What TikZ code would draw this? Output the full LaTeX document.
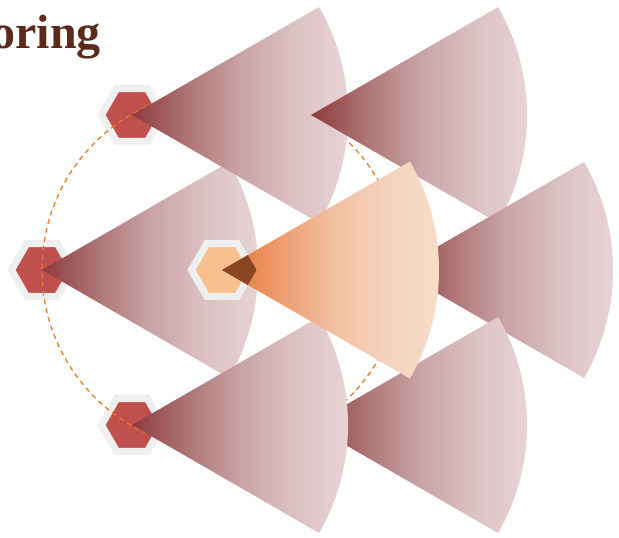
\documentclass[tikz,border=0pt]{standalone}
\usepackage{fontspec}
\setmainfont{Liberation Serif}
\usetikzlibrary{shapes.geometric}
\definecolor{hexred}{HTML}{C0504D}
\definecolor{hexborder}{HTML}{EFEFEF}
\definecolor{hexorange}{HTML}{F8C08F}
\definecolor{ringorange}{HTML}{E87A2E}
\definecolor{titlebrown}{HTML}{5A2A1C}
\definecolor{overlapbrown}{HTML}{8A4522}
\definecolor{rwa}{HTML}{8E3A3C}
\definecolor{rwb}{HTML}{AD7475}
\definecolor{rwc}{HTML}{C9A3A5}
\definecolor{rwd}{HTML}{DCC1C3}
\definecolor{rwe}{HTML}{E9D7D8}
\definecolor{owa}{HTML}{E3712E}
\definecolor{owb}{HTML}{EC9A6C}
\definecolor{owc}{HTML}{F2BE9F}
\definecolor{owd}{HTML}{F5D3BC}
\definecolor{owe}{HTML}{F7DFCA}
\pgfdeclarehorizontalshading{redwedgeshade}{100bp}{color(0bp)=(rwa); color(25bp)=(rwa); color(37bp)=(rwb); color(49bp)=(rwc); color(61bp)=(rwd); color(75bp)=(rwe); color(100bp)=(rwe)}
\pgfdeclarehorizontalshading{orgwedgeshade}{100bp}{color(0bp)=(owa); color(25bp)=(owa); color(37bp)=(owb); color(49bp)=(owc); color(61bp)=(owd); color(75bp)=(owe); color(100bp)=(owe)}
\begin{document}
\begin{tikzpicture}[x=1pt,y=-1pt,
  hexcell/.style={regular polygon, regular polygon sides=6, minimum size=61pt, inner sep=0pt, outer sep=0pt, draw=hexborder, line width=7pt},
  redhex/.style={hexcell, fill=hexred},
  orghex/.style={hexcell, fill=hexorange},
  redwedge/.style={shading=redwedgeshade},
  orgwedge/.style={shading=orgwedgeshade},
  ring/.style={draw=ringorange, line width=1.3pt, dash pattern=on 5pt off 4pt}]
\useasboundingbox (0,0) rectangle (619,538);
\fill[white] (0,0) rectangle (619,538);
\coordinate (c) at (222,270);
\coordinate (p180) at (42,270);
\coordinate (p120) at (132,115);
\coordinate (p240) at (132,425);
\coordinate (p60) at (311,115);
\coordinate (p0) at (397,270);
\coordinate (p300) at (311,425);
% outer cells
\node[redhex] (h120) at (p120) {};
\node[redhex] (h180) at (p180) {};
\node[redhex] (h240) at (p240) {};
% neighbourhood ring
\draw[ring] (c) circle[radius=180];
% sensing wedges
\path[redwedge] (p180) -- +(-30:216) arc[start angle=-30, end angle=30, radius=216] -- cycle;
\path[redwedge] (p120) -- +(-30:216) arc[start angle=-30, end angle=30, radius=216] -- cycle;
\path[redwedge] (p60) -- +(-30:216) arc[start angle=-30, end angle=30, radius=216] -- cycle;
\path[redwedge] (p0) -- +(-30:216) arc[start angle=-30, end angle=30, radius=216] -- cycle;
\path[redwedge] (p300) -- +(-30:216) arc[start angle=-30, end angle=30, radius=216] -- cycle;
\path[redwedge] (p240) -- +(-30:216) arc[start angle=-30, end angle=30, radius=216] -- cycle;
% centre cell
\node[orghex] (hc) at (c) {};
\path[orgwedge] (c) -- +(-30:217) arc[start angle=-30, end angle=30, radius=217] -- cycle;
\begin{scope}
  \clip (c) ++(0:34.5) -- ++(120:34.5) -- ++(180:34.5) -- ++(240:34.5) -- ++(300:34.5) -- ++(0:34.5) -- cycle;
  \fill[overlapbrown] (c) -- +(-30:217) arc[start angle=-30, end angle=30, radius=217] -- cycle;
\end{scope}
% title
\node[anchor=base east, inner sep=0pt, text=titlebrown, font=\fontsize{48}{54}\selectfont\bfseries] (title) at (101,48) {oring};
\end{tikzpicture}
\end{document}
